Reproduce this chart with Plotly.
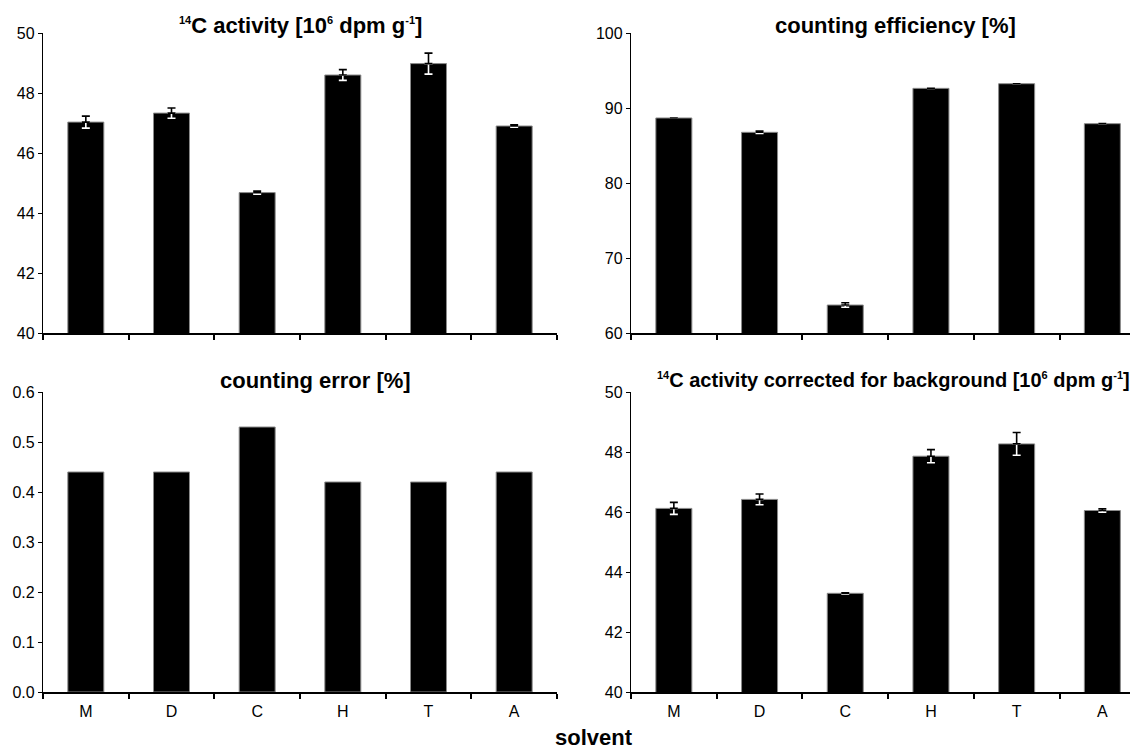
import plotly.graph_objects as go

solvents = ["M", "D", "C", "H", "T", "A"]

activity = [47.03, 47.33, 44.68, 48.60, 48.98, 46.90]
activity_err = [0.20, 0.17, 0.05, 0.18, 0.35, 0.04]

efficiency = [88.67, 86.76, 63.73, 92.62, 93.24, 87.91]
efficiency_err = [0.0, 0.15, 0.30, 0.0, 0.0, 0.0]

count_error = [0.44, 0.44, 0.53, 0.42, 0.42, 0.44]

corrected = [46.12, 46.42, 43.29, 47.86, 48.27, 46.05]
corrected_err = [0.20, 0.18, 0.02, 0.22, 0.38, 0.06]

FONT = "Liberation Sans, Arial, sans-serif"
# the page body adds an 8px margin, so the figure is drawn 8px smaller
OFF = 8
W, H = 1138 - OFF, 750 - OFF

def px_x(p):
    return (p - OFF) / W

def px_y(p):
    return 1 - (p - OFF) / H

def sup(t):
    return '<sup><span style="font-size:11px">%s</span></sup>' % t

fig = go.Figure()

panels = [
    (activity, activity_err, "", [40, 50], 2, "d",
     "<b>" + sup("14") + "C activity [10" + sup("6") + " dpm g" + sup("-1") + "]</b>", False),
    (efficiency, efficiency_err, "2", [60, 100], 10, "d",
     "<b>counting efficiency [%]</b>", False),
    (count_error, None, "3", [0, 0.6], 0.1, ".1f",
     "<b>counting error [%]</b>", True),
    (corrected, corrected_err, "4", [40, 50], 2, "d",
     "<b>" + sup("14") + "C activity corrected for background [10" + sup("6") + " dpm g" + sup("-1") + "]</b>", True),
]

for vals, errs, sfx, yr, dt, tf, title, showlab in panels:
    xa = "x" + sfx
    ya = "y" + sfx
    fig.add_trace(go.Bar(
        x=solvents, y=vals, xaxis=xa, yaxis=ya,
        marker=dict(color="black", line=dict(color="#8a8a8a", width=1)),
        showlegend=False, hoverinfo="x+y",
    ))
    if errs is not None:
        zeros = [0] * len(errs)
        fig.add_trace(go.Scatter(
            x=solvents, y=vals, xaxis=xa, yaxis=ya, mode="markers",
            marker=dict(size=1, color="rgba(0,0,0,0)"),
            error_y=dict(type="data", symmetric=False, array=zeros,
                         arrayminus=errs, color="white", thickness=1.6, width=4),
            showlegend=False, hoverinfo="skip",
        ))
        fig.add_trace(go.Scatter(
            x=solvents, y=vals, xaxis=xa, yaxis=ya, mode="markers",
            marker=dict(size=1, color="rgba(0,0,0,0)"),
            error_y=dict(type="data", symmetric=False, array=errs,
                         arrayminus=zeros, color="black", thickness=1.6, width=4),
            showlegend=False, hoverinfo="skip",
        ))

left_x = [px_x(43), px_x(557)]
right_x = [px_x(631), 1.0]
top_y = [px_y(333), px_y(33)]
bot_y = [px_y(692), px_y(392)]
cat_px = 85.7
right_span = (1138 - 631) / cat_px

def xaxis(domain, anchor, rng, showlab):
    return dict(
        domain=domain, anchor=anchor, type="category",
        range=rng, showline=True, linecolor="black", linewidth=2,
        ticks="outside", tickson="boundaries", ticklen=5, tickwidth=1.5,
        tickcolor="black", showticklabels=showlab, showgrid=False,
        zeroline=False, automargin=False, ticklabelstandoff=4,
        tickfont=dict(family=FONT, size=16, color="black"),
    )

def yaxis(domain, anchor, rng, dt, tf):
    return dict(
        domain=domain, anchor=anchor, range=rng, dtick=dt, tick0=rng[0],
        tickformat=tf, showline=True, linecolor="black", linewidth=1.3,
        ticks="outside", ticklen=4, tickwidth=1.3, tickcolor="black",
        showgrid=False, zeroline=False, automargin=False,
        tickfont=dict(family=FONT, size=16, color="black"),
    )

fig.update_layout(
    width=W, height=H,
    margin=dict(l=0, r=0, t=0, b=0),
    paper_bgcolor="white", plot_bgcolor="white",
    bargap=0.58, showlegend=False,
    font=dict(family=FONT, color="black"),
    xaxis=xaxis(left_x, "y", [-0.5, 5.5], False),
    yaxis=yaxis(top_y, "x", panels[0][3], panels[0][4], panels[0][5]),
    xaxis2=xaxis(right_x, "y2", [-0.5, -0.5 + right_span], False),
    yaxis2=yaxis(top_y, "x2", panels[1][3], panels[1][4], panels[1][5]),
    xaxis3=xaxis(left_x, "y3", [-0.5, 5.5], True),
    yaxis3=yaxis(bot_y, "x3", panels[2][3], panels[2][4], panels[2][5]),
    xaxis4=xaxis(right_x, "y4", [-0.5, -0.5 + right_span], True),
    yaxis4=yaxis(bot_y, "x4", panels[3][3], panels[3][4], panels[3][5]),
)

titles = [
    (panels[0][6], 300, 25, 22),
    (panels[1][6], 895, 25, 22),
    (panels[2][6], 315, 380, 22),
    (panels[3][6], 893, 380, 20),
]
for txt, px, py, fs in titles:
    fig.add_annotation(
        text=txt, x=px_x(px), y=px_y(py), xref="paper", yref="paper",
        xanchor="center", yanchor="middle", showarrow=False,
        font=dict(family=FONT, size=fs, color="black"),
    )

fig.add_annotation(
    text="<b>solvent</b>", x=px_x(594), y=px_y(737), xref="paper", yref="paper",
    xanchor="center", yanchor="middle", showarrow=False,
    font=dict(family=FONT, size=22, color="black"),
)

fig.write_html("out.html")
